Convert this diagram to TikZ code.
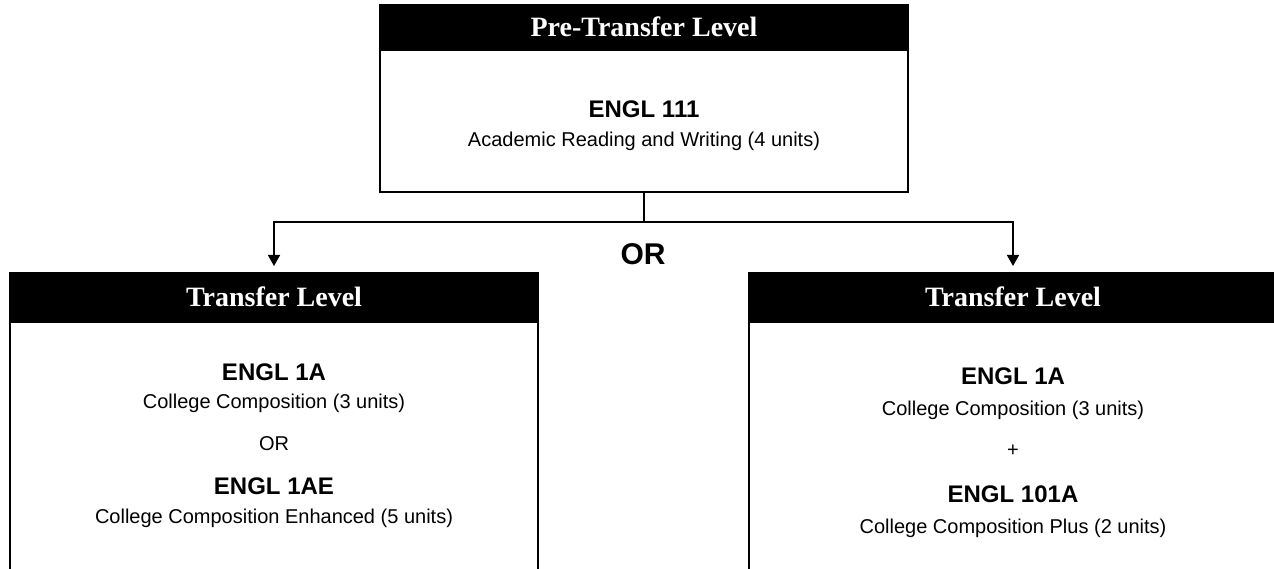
\documentclass[tikz,border=0pt]{standalone}
\usepackage{fontspec}
\setmainfont{Liberation Sans}
\newfontfamily\hdrfont{Liberation Serif}
\usetikzlibrary{arrows.meta}
\tikzset{
  box/.style={draw=black, line width=1.6pt, fill=white, inner sep=0pt, outer sep=0pt, anchor=north west, minimum width=528pt},
  hdr/.style={draw=black, fill=black, line width=1.6pt, inner sep=0pt, outer sep=0pt, anchor=north west, minimum width=528pt},
  hdrtext/.style={text=white, font=\hdrfont\bfseries\fontsize{28}{30}\selectfont, anchor=base, inner sep=0pt},
  code/.style={font=\bfseries\fontsize{24}{28}\selectfont, anchor=base, inner sep=0pt},
  desc/.style={font=\fontsize{20}{24}\selectfont, anchor=base, inner sep=0pt},
  bigor/.style={font=\bfseries\fontsize{30}{34}\selectfont, anchor=base, inner sep=0pt},
  link/.style={line width=1.6pt, line join=miter},
  arrowlink/.style={link, -{Triangle[width=12pt,length=11pt]}, shorten >=7pt}
}
\begin{document}
\begin{tikzpicture}[x=1pt,y=-1pt]
\useasboundingbox (0,0) rectangle (1274,569);
% top box
\node[box, minimum height=187pt] (top) at (380,5) {};
\node[hdr, minimum height=45pt] (tophdr) at (380,5) {};
\node[hdrtext] (toptitle) at (644,37) {Pre-Transfer Level};
\node[code] (c111) at (644,118) {ENGL 111};
\node[desc] (d111) at (644,147) {Academic Reading and Writing (4 units)};
% left box
\node[box, minimum height=330pt] (left) at (10,273) {};
\node[hdr, minimum height=49pt] (lefthdr) at (10,273) {};
\node[hdrtext] (lt) at (274,306) {Transfer Level};
\node[code] (l1a) at (274,380) {ENGL 1A};
\node[desc] (l1ad) at (274,408) {College Composition (3 units)};
\node[desc] (lor) at (274,450) {OR};
\node[code] (l1ae) at (274,494) {ENGL 1AE};
\node[desc] (l1aed) at (274,523) {College Composition Enhanced (5 units)};
% right box
\node[box, minimum height=330pt] (right) at (749,273) {};
\node[hdr, minimum height=49pt] (righthdr) at (749,273) {};
\node[hdrtext] (rt) at (1013,306) {Transfer Level};
\node[code] (r1a) at (1013,384) {ENGL 1A};
\node[desc] (r1ad) at (1013,415) {College Composition (3 units)};
\node[desc] (plus) at (1013,456) {+};
\node[code] (r101) at (1013,502) {ENGL 101A};
\node[desc] (r101d) at (1013,533) {College Composition Plus (2 units)};
% connectors
\coordinate (split) at (top.south |- 0,222);
\draw[link] (top.south) -- (split);
\draw[arrowlink] (split) -| (left.north);
\draw[arrowlink] (split) -| (right.north);
\node[bigor] (or) at (643,265) {OR};
\end{tikzpicture}
\end{document}
